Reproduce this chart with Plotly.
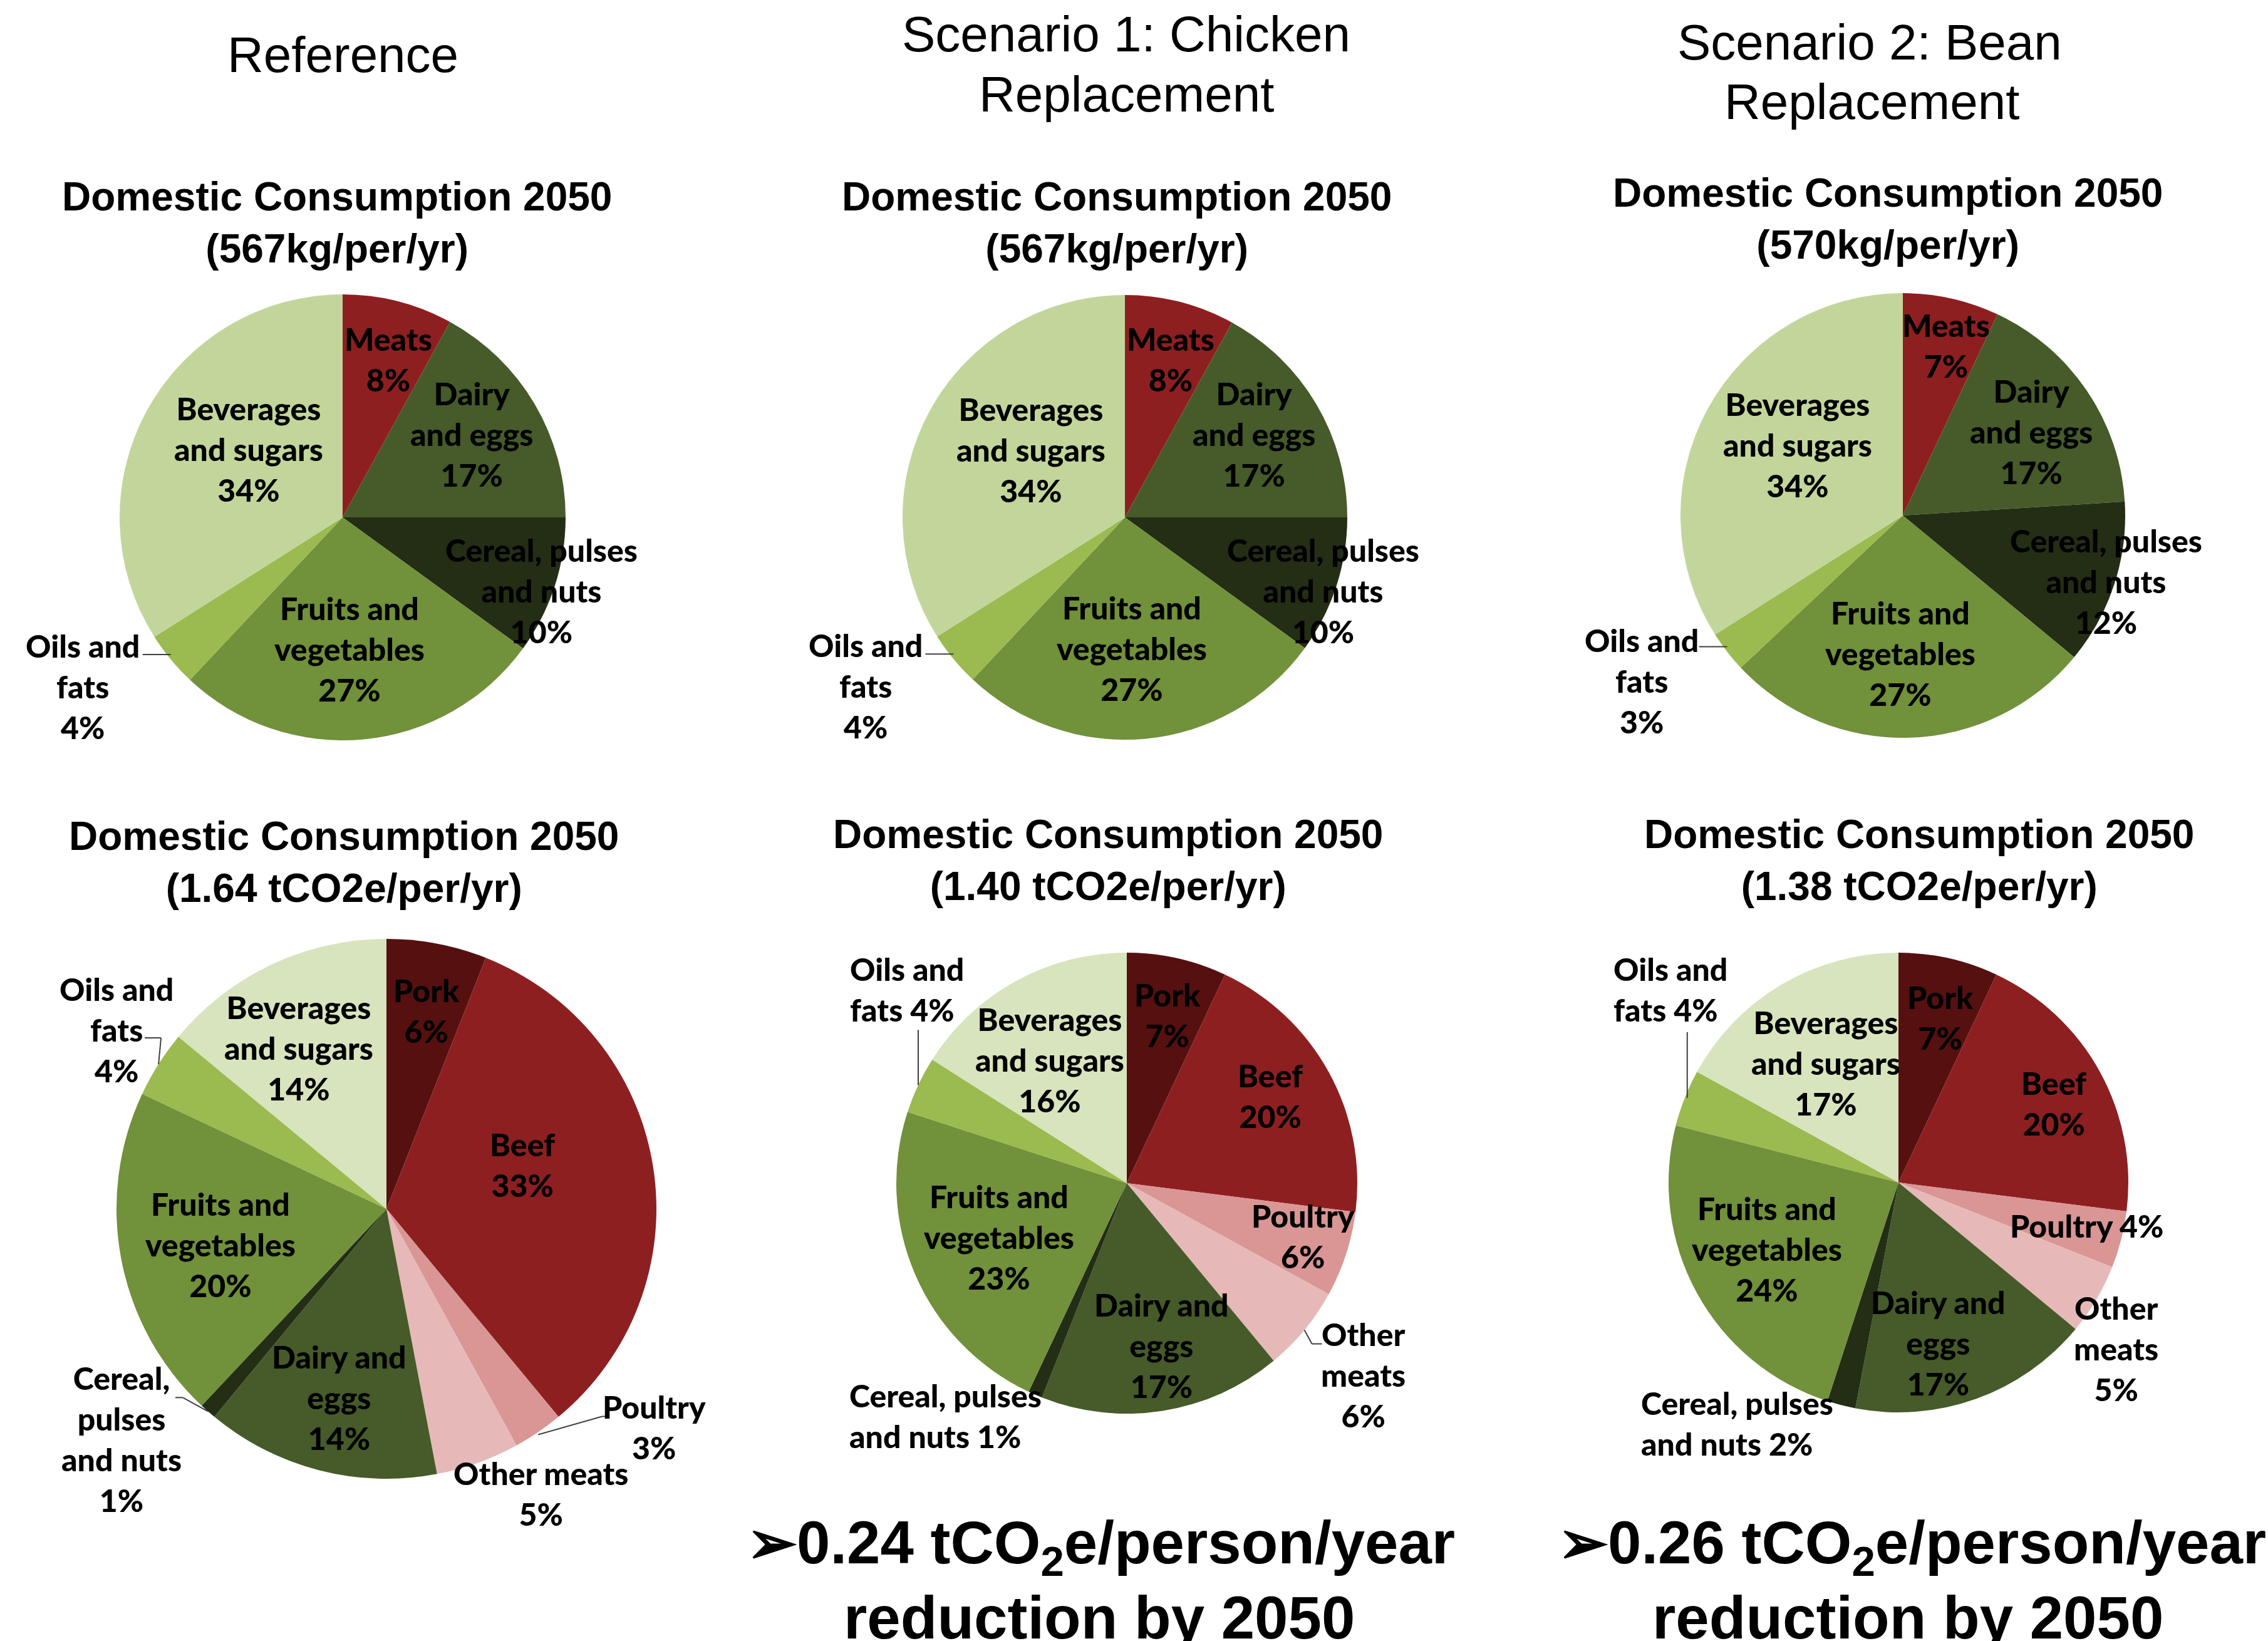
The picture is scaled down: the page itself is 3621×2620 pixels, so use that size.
import math
import plotly.graph_objects as go

W, H = 3621, 2620

# ---------------- data ----------------
CATS_TOP = ["Meats", "Dairy and eggs", "Cereal, pulses and nuts",
            "Fruits and vegetables", "Oils and fats", "Beverages and sugars"]
REF_TOP = [8, 17, 10, 27, 4, 34]
S1_TOP = [8, 17, 10, 27, 4, 34]
S2_TOP = [7, 17, 12, 27, 3, 34]

CATS_BOT = ["Pork", "Beef", "Poultry", "Other meats", "Dairy and eggs",
            "Cereal, pulses and nuts", "Fruits and vegetables", "Oils and fats",
            "Beverages and sugars"]
REF_BOT = [6, 33, 3, 5, 14, 1, 20, 4, 14]
S1_BOT = [7, 20, 6, 6, 17, 1, 23, 4, 16]
S2_BOT = [7, 20, 4, 5, 17, 2, 24, 4, 17]

SCENARIOS = ["Reference", "Scenario 1: Chicken|Replacement", "Scenario 2: Bean|Replacement"]
TOP_TOTALS = ["567kg/per/yr", "567kg/per/yr", "570kg/per/yr"]
BOT_TOTALS = ["1.64 tCO2e/per/yr", "1.40 tCO2e/per/yr", "1.38 tCO2e/per/yr"]
REDUCTIONS = [None, "0.24", "0.26"]

TOP_LABELS = ["Meats<br>{}%", "Dairy<br>and eggs<br>{}%", "Cereal, pulses<br>and nuts<br>{}%",
              "Fruits and<br>vegetables<br>{}%", "Oils and<br>fats<br>{}%",
              "Beverages<br>and sugars<br>{}%"]
BOT_LABELS_REF = ["Pork<br>{}%", "Beef<br>{}%", "Poultry<br>{}%", "Other meats<br>{}%",
                  "Dairy and<br>eggs<br>{}%", "Cereal,<br>pulses<br>and nuts<br>{}%",
                  "Fruits and<br>vegetables<br>{}%", "Oils and<br>fats<br>{}%",
                  "Beverages<br>and sugars<br>{}%"]
BOT_LABELS_S1 = ["Pork<br>{}%", "Beef<br>{}%", "Poultry<br>{}%", "Other<br>meats<br>{}%",
                 "Dairy and<br>eggs<br>{}%", "Cereal, pulses<br>and nuts {}%",
                 "Fruits and<br>vegetables<br>{}%", "Oils and<br>fats {}%",
                 "Beverages<br>and sugars<br>{}%"]
BOT_LABELS_S2 = ["Pork<br>{}%", "Beef<br>{}%", "Poultry {}%", "Other<br>meats<br>{}%",
                 "Dairy and<br>eggs<br>{}%", "Cereal, pulses<br>and nuts {}%",
                 "Fruits and<br>vegetables<br>{}%", "Oils and<br>fats {}%",
                 "Beverages<br>and sugars<br>{}%"]

# ---------------- styles ----------------
TOP_COLORS = ["#8E1F20", "#465B29", "#232E15", "#71913A", "#9BBA50", "#C2D69B"]
BOT_COLORS = ["#561010", "#8E1F20", "#D99694", "#E6B9B8", "#465B29", "#232E15",
              "#71913A", "#9BBA50", "#D7E4BD"]

HEAD_FONT = "Liberation Sans, Arial, sans-serif"
LABEL_FONT = "Lato, Carlito, sans-serif"

# label placement: (radial factor, angle offset deg, align)
TOP_PLACE_A = [(0.74, 1.8, "center"), (0.69, -2.2, "center"), (0.95, 2.3, "center"),
               (0.59, 2.3, "center"), (1.39, 6.6, "center"), (0.52, 7.1, "center")]
TOP_PLACE_B = [(0.79, 1.7, "center"), (0.69, 1.0, "center"), (0.96, 0.0, "center"),
               (0.62, 2.8, "center"), (1.39, 5.4, "center"), (0.57, 5.2, "center")]
BL_PLACE = [(0.75, 0.7, "center"), (0.53, -9.1, "center"), (1.28, -16.6, "center"),
            (1.2, -8.7, "center"), (0.72, -0.3, "center"), (1.3, 7.6, "center"),
            (0.63, -1.4, "center"), (1.2, 1.2, "center"), (0.68, -3.4, "center")]
BM_PLACE = [(0.75, 1.0, "center"), (0.73, -2.6, "center"), (0.8, -1.3, "center"),
            (1.32, -0.6, "center"), (0.72, -3.0, "center"), (1.28, 14.5, "left"),
            (0.6, 0.6, "center"), (1.27, 16.2, "left"), (0.63, -3.2, "center")]
BR_PLACE = [(0.74, 1.6, "center"), (0.76, 1.8, "center"), (0.84, -1.5, "center"),
            (1.19, 6.7, "center"), (0.72, 5.8, "center"), (1.26, 19.4, "left"),
            (0.64, 2.0, "center"), (1.3, 18.7, "left"), (0.61, -0.7, "center")]

# leader lines: slice index -> polyline offsets (px) from slice edge point
TOP_LEAD = {4: [(0, -8), (-45, -8)]}
BL_LEAD = {7: [(0, 0), (4, -42), (-22, -42)],
           2: [(0, 4), (102, -25), (110, -25)],
           5: [(0, 0), (-40, -22), (-52, -22)]}
BM_LEAD = {7: [(0, 0), (0, -88)], 3: [(0, 0), (12, 22), (28, 22)]}
BR_LEAD = {7: [(4, 0), (4, -105)]}

PIES = [
    dict(vals=REF_TOP, cats=CATS_TOP, colors=TOP_COLORS, labels=TOP_LABELS, place=TOP_PLACE_A,
         lead=TOP_LEAD, c=(547, 826, 356)),
    dict(vals=S1_TOP, cats=CATS_TOP, colors=TOP_COLORS, labels=TOP_LABELS, place=TOP_PLACE_A,
         lead=TOP_LEAD, c=(1796, 826, 355)),
    dict(vals=S2_TOP, cats=CATS_TOP, colors=TOP_COLORS, labels=TOP_LABELS, place=TOP_PLACE_B,
         lead=TOP_LEAD, c=(3038, 823, 355)),
    dict(vals=REF_BOT, cats=CATS_BOT, colors=BOT_COLORS, labels=BOT_LABELS_REF, place=BL_PLACE,
         lead=BL_LEAD, c=(617, 1930, 431)),
    dict(vals=S1_BOT, cats=CATS_BOT, colors=BOT_COLORS, labels=BOT_LABELS_S1, place=BM_PLACE,
         lead=BM_LEAD, c=(1799, 1889, 368)),
    dict(vals=S2_BOT, cats=CATS_BOT, colors=BOT_COLORS, labels=BOT_LABELS_S2, place=BR_PLACE,
         lead=BR_LEAD, c=(3031, 1888, 367)),
]


def px(x, y):
    return x / W, 1 - y / H


fig = go.Figure()
annotations = []
shapes = []

for p in PIES:
    cx, cy, r = p["c"]
    fig.add_trace(go.Pie(
        labels=p["cats"], values=p["vals"], sort=False, direction="clockwise", rotation=0,
        marker=dict(colors=p["colors"], line=dict(width=0)),
        textinfo="none", hoverinfo="label+percent", showlegend=False,
        domain=dict(x=[(cx - r) / W, (cx + r) / W], y=[1 - (cy + r) / H, 1 - (cy - r) / H]),
    ))
    total = sum(p["vals"])
    cum = 0
    for i, v in enumerate(p["vals"]):
        mid = (cum + v / 2) / total * 360
        cum += v
        f, da, align = p["place"][i]
        a = math.radians(mid + da)
        lx = cx + f * r * math.sin(a)
        ly = cy - f * r * math.cos(a)
        x, y = px(lx, ly)
        annotations.append(dict(
            x=x, y=y, xref="paper", yref="paper", xanchor="center", yanchor="middle",
            text=p["labels"][i].format(v), showarrow=False, align=align,
            font=dict(family=LABEL_FONT, size=50, color="#000000", weight=900)))
        if i in p["lead"]:
            am = math.radians(mid)
            ex = cx + r * math.sin(am)
            ey = cy - r * math.cos(am)
            pts = [(ex + dx, ey + dy) for dx, dy in p["lead"][i]]
            for (x0, y0), (x1, y1) in zip(pts[:-1], pts[1:]):
                a0 = px(x0, y0)
                a1 = px(x1, y1)
                shapes.append(dict(type="line", xref="paper", yref="paper",
                                   x0=a0[0], y0=a0[1], x1=a1[0], y1=a1[1],
                                   line=dict(color="#404040", width=2)))

# scenario headings
HEAD_POS = [[(547, 88)], [(1798, 55), (1798, 150)], [(2985, 67), (2988, 162)]]
for name, poss in zip(SCENARIOS, HEAD_POS):
    for line, (hx, hy) in zip(name.split("|"), poss):
        x, y = px(hx, hy)
        annotations.append(dict(x=x, y=y, xref="paper", yref="paper", xanchor="center",
                                yanchor="middle", text=line, showarrow=False,
                                font=dict(family=HEAD_FONT, size=80, color="#000000")))

# pie titles
TOP_TITLE_POS = [(538, 355), (1783, 355), (3014, 349)]
BOT_TITLE_POS = [(549, 1376), (1769, 1373), (3064, 1373)]
for tot, (tx, ty) in zip(TOP_TOTALS, TOP_TITLE_POS):
    x, y = px(tx, ty)
    annotations.append(dict(x=x, y=y, xref="paper", yref="paper", xanchor="center",
                            yanchor="middle", text=f"Domestic Consumption 2050<br>({tot})",
                            showarrow=False,
                            font=dict(family=HEAD_FONT, size=64, color="#000000", weight="bold")))
for tot, (tx, ty) in zip(BOT_TOTALS, BOT_TITLE_POS):
    x, y = px(tx, ty)
    annotations.append(dict(x=x, y=y, xref="paper", yref="paper", xanchor="center",
                            yanchor="middle", text=f"Domestic Consumption 2050<br>({tot})",
                            showarrow=False,
                            font=dict(family=HEAD_FONT, size=64, color="#000000", weight="bold")))

# reduction statements
RED_POS = [None, ((1190, 2469), (1755, 2582)), ((2485, 2469), (3046, 2582))]
for red, pos in zip(REDUCTIONS, RED_POS):
    if red is None:
        continue
    (x1, y1), (x2, y2) = pos
    a = px(x1, y1)
    annotations.append(dict(x=a[0], y=a[1], xref="paper", yref="paper", xanchor="left",
                            yanchor="middle",
                            text=f"\u27a2{red} tCO<sub>2</sub>e/person/year",
                            showarrow=False,
                            font=dict(family=HEAD_FONT, size=96, color="#000000", weight="bold")))
    b = px(x2, y2)
    annotations.append(dict(x=b[0], y=b[1], xref="paper", yref="paper", xanchor="center",
                            yanchor="middle", text="reduction by 2050", showarrow=False,
                            font=dict(family=HEAD_FONT, size=96, color="#000000", weight="bold")))

fig.update_layout(
    width=W, height=H, margin=dict(l=0, r=0, t=0, b=0),
    paper_bgcolor="white", plot_bgcolor="white",
    annotations=annotations, shapes=shapes,
)

fig.write_html("out.html")
